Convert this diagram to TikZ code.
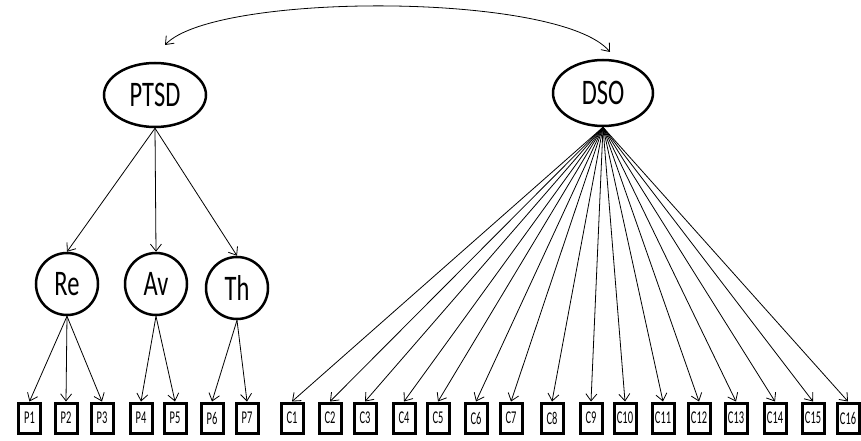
\documentclass[tikz,border=0pt]{standalone}
\usepackage{fontspec}
\newfontfamily\lblfont[FakeStretch=0.68]{Carlito}
\newfontfamily\boxfont[FakeStretch=0.58]{Carlito}
\usetikzlibrary{arrows.meta,shapes.geometric}
\begin{document}
\begin{tikzpicture}[x=1pt,y=-1pt,
  lat/.style={draw, ellipse, line width=2.5pt, inner sep=0pt, font=\lblfont\fontsize{36}{40}\selectfont},
  fac/.style={draw, circle, line width=2.5pt, minimum size=62pt, inner sep=0pt, font=\lblfont\fontsize{36}{40}\selectfont},
  ind/.style={draw, rectangle, line width=3pt, minimum width=22pt, minimum height=30pt, inner sep=0pt, font=\boxfont\fontsize{18}{20}\selectfont},
  arr/.style={-{Straight Barb[length=7pt,width=11pt]}, line width=0.8pt},
  dbl/.style={{Straight Barb[length=7pt,width=11pt]}-{Straight Barb[length=7pt,width=11pt]}, line width=0.8pt}]
\useasboundingbox (0,0) rectangle (861,441);
\fill[white] (0,0) rectangle (861,441);
\node[lat, minimum width=102pt, minimum height=64pt] (PTSD) at (155,95) {PTSD};
\node[lat, minimum width=100pt, minimum height=66pt] (DSO) at (603,93) {DSO};
\node[fac] (Re) at (67,284) {Re};
\node[fac] (Av) at (156,284) {Av};
\node[fac] (Th) at (237,288) {Th};
\foreach \n/\x in {1/29.5,2/66,3/102,4/141,5/175,6/212,7/247}
  \node[ind] (P\n) at (\x,418) {P\n};
\foreach \n/\x in {1/292,2/330,3/365,4/404,5/438,6/476,7/511,8/552,9/591,10/625,11/663,12/699,13/736,14/775,15/813,16/848}
  \node[ind] (C\n) at (\x,418) {C\n};
\coordinate (cl) at (165,45);
\coordinate (cr) at (610,52);
\draw[dbl] (cl) .. controls (215,-8) and (560,-8) .. (cr);
\foreach \t in {Re,Av,Th} \draw[arr] (PTSD.south) -- (\t.north);
\foreach \t in {1,2,3} \draw[arr] (Re.south) -- (P\t.north);
\foreach \t in {4,5} \draw[arr] (Av.south) -- (P\t.north);
\foreach \t in {6,7} \draw[arr] (Th.south) -- (P\t.north);
\foreach \i in {1,...,16} \draw[arr] (DSO.south) -- (C\i.north);
\end{tikzpicture}
\end{document}
